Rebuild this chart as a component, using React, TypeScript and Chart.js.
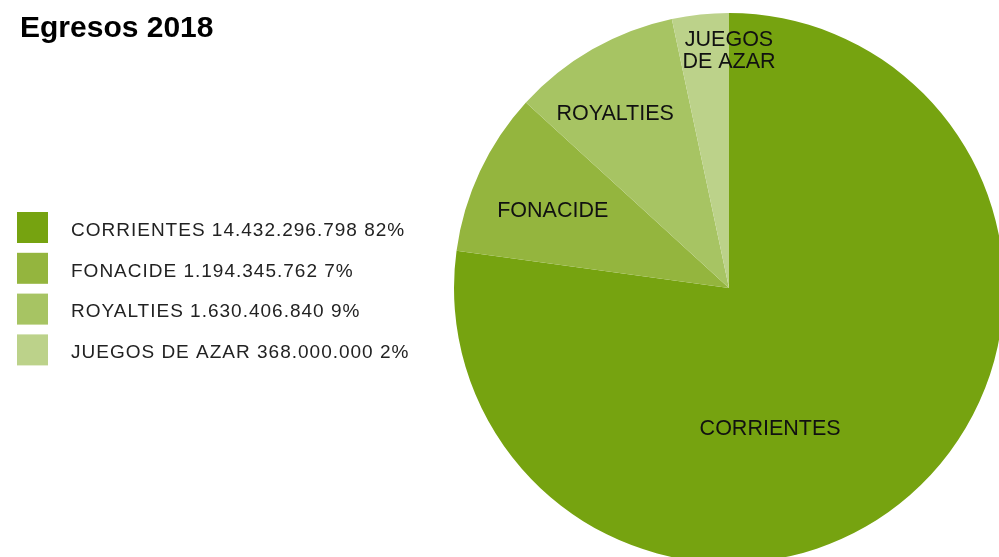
import React, { useEffect, useRef } from "react";
import { Chart, ArcElement, PieController } from "chart.js";

Chart.register(ArcElement, PieController);

const TITLE = "Egresos 2018";
const categories = ["CORRIENTES", "FONACIDE", "ROYALTIES", "JUEGOS DE AZAR"];
const amounts = ["14.432.296.798", "1.194.345.762", "1.630.406.840", "368.000.000"];
const percents = ["82%", "7%", "9%", "2%"];
// slice sizes as drawn in the reference (degrees of the circle)
const sliceValues = [277.8, 34.6, 35.6, 12.0];
const sliceLabels = [["CORRIENTES"], ["FONACIDE"], ["ROYALTIES"], ["JUEGOS", "DE AZAR"]];
const colors = ["#76a310", "#94b53e", "#a7c463", "#bcd28a"];
const labelAngleFrac = [0.589, 0.46, 0.41, 1.0];
const labelRadiusFrac = [0.53, 0.7, 0.76, 0.865];

const W = 1010;
const H = 575;
const FONT = "'Liberation Sans', Arial, Helvetica, sans-serif";

const overlayPlugin = {
  id: "overlay",
  afterDraw(chart: any) {
    const ctx = chart.ctx as any;
    ctx.save();
    // title
    ctx.fillStyle = "#000";
    ctx.font = `bold 30px ${FONT}`;
    ctx.textAlign = "left";
    ctx.textBaseline = "alphabetic";
    ctx.fillText(TITLE, 20, 37);

    // legend
    const bg = chart.data.datasets[0].backgroundColor as string[];
    categories.forEach((c, i) => {
      const top = 212 + i * 40.8;
      ctx.fillStyle = bg[i];
      ctx.fillRect(17, top, 31, 31);
      ctx.fillStyle = "#222";
      ctx.font = `19px ${FONT}`;
      ctx.letterSpacing = "1px";
      ctx.textBaseline = "middle";
      ctx.fillText(`${c} ${amounts[i]} ${percents[i]}`, 71, top + 18.5);
      ctx.letterSpacing = "0px";
    });

    // slice labels
    const meta = chart.getDatasetMeta(0);
    ctx.fillStyle = "#111";
    ctx.font = `21.5px ${FONT}`;
    ctx.textAlign = "center";
    ctx.textBaseline = "middle";
    meta.data.forEach((el: any, i: number) => {
      const a = el.startAngle + labelAngleFrac[i] * (el.endAngle - el.startAngle);
      const r = el.outerRadius * labelRadiusFrac[i];
      const cx = el.x + Math.cos(a) * r;
      const cy = el.y + Math.sin(a) * r;
      const lines = sliceLabels[i];
      const lh = 22;
      lines.forEach((ln, k) => {
        ctx.fillText(ln, cx, cy + 1 + (k - (lines.length - 1) / 2) * lh);
      });
    });
    ctx.restore();
  },
};

export default function App() {
  const ref = useRef<HTMLCanvasElement | null>(null);
  useEffect(() => {
    if (!ref.current) return;
    const chart = new Chart(ref.current, {
      type: "pie",
      data: {
        labels: categories,
        datasets: [
          {
            data: sliceValues,
            backgroundColor: colors,
            borderWidth: 0,
          },
        ],
      },
      options: {
        responsive: false,
        animation: false,
        devicePixelRatio: 1,
        layout: { padding: { left: 454, right: W - 454 - 550, top: 13, bottom: H - 13 - 550 } },
        plugins: { legend: { display: false }, tooltip: { enabled: false }, title: { display: false } },
      },
      plugins: [overlayPlugin],
    });
    return () => chart.destroy();
  }, []);
  return (
    <div style={{ position: "fixed", left: 0, top: 0, width: "999px", height: "557px", overflow: "hidden", background: "#fff" }}>
      <canvas ref={ref} width={W} height={H} style={{ position: "absolute", left: 0, top: 0, width: W + "px", height: H + "px" }} />
    </div>
  );
}
